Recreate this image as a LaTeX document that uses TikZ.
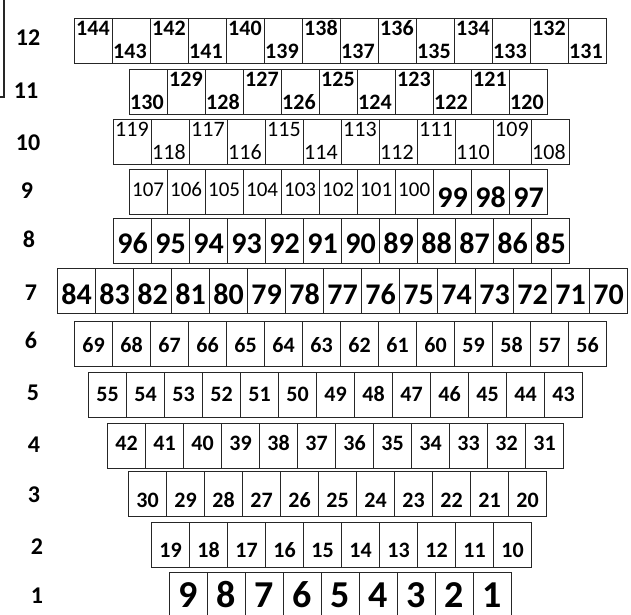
\documentclass[tikz,border=0pt]{standalone}
\usepackage{fontspec}
\setmainfont{Carlito}
\usetikzlibrary{positioning, calc}

\begin{document}
\begin{tikzpicture}[
        x=1pt, y=-1pt,
        cell/.style={draw=black!85, line width=1.1pt, minimum width=38pt,
                     minimum height=45pt, inner sep=0pt, anchor=north west},
        rowlbl/.style={anchor=base, inner sep=0pt,
                       font=\bfseries\fontsize{24}{24}\selectfont},
        topnum/.style={anchor=base west, inner sep=0pt,
                       font=\fontsize{22}{22}\selectfont},
        smallnum/.style={anchor=base west, inner sep=0pt,
                         font=\fontsize{21}{21}\selectfont},
        midnum/.style={anchor=base, inner sep=0pt,
                       font=\bfseries\fontsize{22}{22}\selectfont},
        bignum/.style={anchor=base, inner sep=0pt,
                       font=\bfseries\fontsize{30}{30}\selectfont},
        hugenum/.style={anchor=base, inner sep=0pt,
                        font=\bfseries\fontsize{38}{38}\selectfont}
      ]
        \useasboundingbox (0,0) rectangle (631,614);

        \coordinate (brk) at (0,97);
        \draw[line width=1.1pt, black!85] (brk) -- ++(4,0) -- (4,-2);

        \foreach \r/\lx/\ly in {12/28/45, 11/26/98, 10/28/150, 9/27/198,
            8/29/247, 7/31/300, 6/31/348, 5/33/400, 4/34/452, 3/34/502,
            2/37/554, 1/37/603}
          \node[rowlbl] (row\r) at (\lx,\ly) {\r};

        \foreach \first/\n/\xa/\ya/\sh/\w in {144/14/74/18/0/\bfseries,
            130/11/129/69/1/\bfseries, 119/12/113/119/0/\mdseries} {
          \foreach \k in {1,...,\n} {
            \pgfmathtruncatemacro\num{\first-\k+1}
            \pgfmathtruncatemacro\up{mod(\k+\sh,2)}
            \node[cell] (c\num) at ({\xa+38*(\k-1)},\ya) {};
            \ifnum\up=1
              \node[topnum] (t\num) at ($(c\num.north west)+(2,17)$) {\w\num};
            \else
              \node[topnum] (t\num) at ($(c\num.north west)+(1,40)$) {\w\num};
            \fi
          }
        }

        \foreach \k in {1,...,8} {
          \pgfmathtruncatemacro\num{108-\k}
          \node[cell] (c\num) at ({129+38*(\k-1)},169) {};
          \node[smallnum] (t\num) at ($(c\num.north west)+(3,27)$) {\num};
        }

        \foreach \first/\n/\xa/\ya/\bl/\sty in {99/3/433/169/38/bignum,
            96/12/113/218/35/bignum, 84/15/57/268/36/bignum,
            69/14/74/321/31/midnum, 55/13/88/372/29/midnum,
            42/12/107/423/27/midnum, 30/11/128/471/36/midnum,
            19/10/151/522/35/midnum, 9/9/169/572/35/hugenum} {
          \foreach \k in {1,...,\n} {
            \pgfmathtruncatemacro\num{\first-\k+1}
            \node[cell] (c\num) at ({\xa+38*(\k-1)},\ya) {};
            \node[\sty] (t\num) at ($(c\num.north)+(0,\bl)$) {\num};
          }
        }
      \end{tikzpicture}
\end{document}
